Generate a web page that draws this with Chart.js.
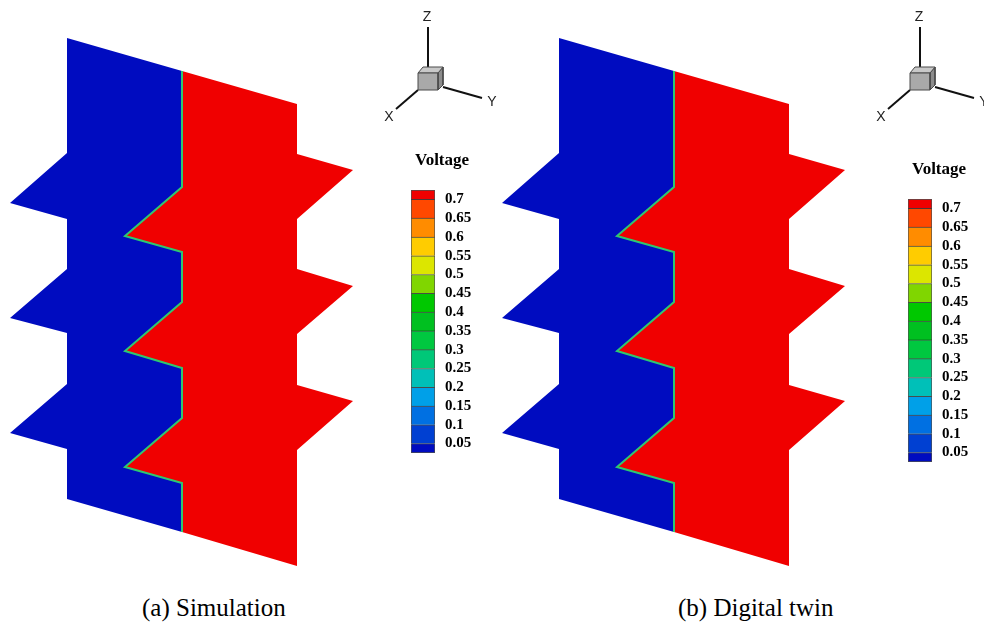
<!DOCTYPE html>
<html>
<head>
<meta charset="utf-8">
<title>Voltage</title>
<script src="https://cdn.jsdelivr.net/npm/chart.js@4.4.1/dist/chart.umd.min.js"></script>
<style>
  html, body { margin: 0; padding: 0; background: #fff; overflow: hidden; }
  body { width: 984px; height: 626px; position: relative; }
  canvas { position: absolute; }
  .caption {
    position: absolute;
    font-family: "Liberation Serif", "Times New Roman", serif;
    font-size: 25px;
    line-height: 30px;
    color: #000;
    white-space: nowrap;
  }
</style>
</head>
<body>
<canvas id="plateSim" width="560" height="590" style="left:0;top:0"></canvas>
<canvas id="plateTwin" width="560" height="590" style="left:492px;top:0"></canvas>
<canvas id="barSim" width="80" height="320" style="left:405px;top:140px"></canvas>
<canvas id="barTwin" width="80" height="320" style="left:902px;top:149px"></canvas>
<div class="caption" style="left:142px;top:593px">(a) Simulation</div>
<div class="caption" style="left:678px;top:593px">(b) Digital twin</div>

<script>
// plate outline in the view plane (origin = lower left corner of the plate)
var lowSideU  = [0, 115, 115, 58, 115, 115, 58, 115, 115, 58, 115, 115, 0, 0, -57, 0, 0, -57, 0, 0, -57, 0, 0];
var lowSideV  = [461, 428, 312, 263, 247, 197, 148, 131, 81, 32, 16, -33, 0, 50, 66, 115, 166, 181, 230, 280, 296, 346, 461];
var highSideU = [115, 230, 230, 286, 230, 230, 286, 230, 230, 286, 230, 230, 115, 115, 58, 115, 115, 58, 115, 115, 58, 115, 115];
var highSideV = [428, 395, 345, 329, 280, 230, 213, 165, 114, 98, 49, -67, -33, 16, 32, 81, 131, 148, 197, 247, 263, 312, 428];
var interfaceU = [115, 115, 58, 115, 115, 58, 115, 115, 58, 115, 115];
var interfaceV = [428, 312, 263, 247, 197, 148, 131, 81, 32, 16, -33];

// potential on each side of the interface
var lowSideVoltage = 0.03;
var highSideVoltage = 0.72;

// contour legend
var voltageEdges = [0.025, 0.05, 0.1, 0.15, 0.2, 0.25, 0.3, 0.35, 0.4, 0.45, 0.5, 0.55, 0.6, 0.65, 0.7, 0.725];
var bandColors = ['#000cc0', '#0040d2', '#0070e2', '#00a0e8', '#00c0b8', '#00c878', '#00c840',
                  '#00c020', '#00c800', '#80d600', '#dce600', '#ffcc00', '#ff8c00', '#ff4800', '#f00000'];
var tickValues = [0.05, 0.1, 0.15, 0.2, 0.25, 0.3, 0.35, 0.4, 0.45, 0.5, 0.55, 0.6, 0.65, 0.7];

// orientation triad
var zAxisU = [361, 361], zAxisV = [472, 432];
var yAxisU = [376, 415], yAxisV = [412, 401];
var xAxisU = [351, 329], xAxisV = [409, 390];
var cubeFrontU = [351, 371, 371, 351, 351], cubeFrontV = [426, 426, 409, 409, 426];
var cubeTopU = [351, 356, 376, 371, 351],   cubeTopV = [426, 432, 432, 426, 426];
var cubeSideU = [371, 376, 376, 371, 371],  cubeSideV = [426, 432, 414, 409, 426];
var triadNames = ['Z', 'Y', 'X'];
var triadNameU = [360, 425, 322];
var triadNameV = [482, 397, 382];

var serif = '"Liberation Serif", "Times New Roman", serif';

function colorFor(v) {
  for (var i = 0; i < bandColors.length; i++) {
    if (v >= voltageEdges[i] && v < voltageEdges[i + 1]) return bandColors[i];
  }
  return bandColors[bandColors.length - 1];
}

function pts(us, vs) {
  return us.map(function (u, i) { return { x: u, y: vs[i] }; });
}

function region(us, vs, color, edge) {
  return {
    data: pts(us, vs), fill: 'shape', backgroundColor: color,
    borderColor: edge || color, borderWidth: edge ? 1 : 0,
    pointRadius: 0, tension: 0
  };
}

function stroke(us, vs, color, w) {
  return {
    data: pts(us, vs), fill: false, borderColor: color, borderWidth: w,
    borderCapStyle: 'butt', pointRadius: 0, tension: 0
  };
}

var triadLabels = {
  id: 'triadLabels',
  afterDatasetsDraw: function (chart) {
    var ctx = chart.ctx, x = chart.scales.x, y = chart.scales.y;
    ctx.save();
    ctx.font = '14px "Liberation Sans", Arial, sans-serif';
    ctx.fillStyle = '#222';
    ctx.textAlign = 'center';
    ctx.textBaseline = 'middle';
    triadNames.forEach(function (t, i) {
      ctx.fillText(t, x.getPixelForValue(triadNameU[i]), y.getPixelForValue(triadNameV[i]));
    });
    ctx.restore();
  }
};

function plateChart(id) {
  // first dataset is drawn on top
  var datasets = [
    region(cubeFrontU, cubeFrontV, '#a9a9a9', '#4a4a4a'),
    region(cubeTopU, cubeTopV, '#c8c8c8', '#4a4a4a'),
    region(cubeSideU, cubeSideV, '#8c8c8c', '#4a4a4a'),
    stroke(zAxisU, zAxisV, '#111', 2),
    stroke(yAxisU, yAxisV, '#111', 2),
    stroke(xAxisU, xAxisV, '#111', 2),
    stroke(interfaceU, interfaceV, '#2ec870', 2),
    region(lowSideU, lowSideV, colorFor(lowSideVoltage)),
    region(highSideU, highSideV, colorFor(highSideVoltage))
  ];
  return new Chart(document.getElementById(id), {
    type: 'line',
    data: { datasets: datasets },
    options: {
      responsive: false,
      animation: false,
      events: [],
      layout: { padding: 0 },
      plugins: { legend: { display: false }, tooltip: { enabled: false } },
      scales: {
        x: { type: 'linear', display: false, min: -67, max: 493 },
        y: { type: 'linear', display: false, min: -91, max: 499 }
      }
    },
    plugins: [triadLabels]
  });
}

function legendChart(id) {
  var datasets = bandColors.map(function (c, i) {
    return {
      data: [[voltageEdges[i], voltageEdges[i + 1]]],
      backgroundColor: c,
      borderColor: 'rgba(20,20,20,0.75)',
      borderWidth: { top: 1, left: 1, right: 1, bottom: i === 0 ? 1 : 0 },
      borderSkipped: false,
      barPercentage: 1,
      categoryPercentage: 1,
      grouped: false
    };
  });
  return new Chart(document.getElementById(id), {
    type: 'bar',
    data: { labels: [''], datasets: datasets },
    options: {
      responsive: false,
      animation: false,
      events: [],
      layout: { padding: { left: 6, right: 12, top: 0, bottom: 7 } },
      plugins: {
        legend: { display: false },
        tooltip: { enabled: false },
        title: {
          display: true, text: 'Voltage', color: '#000',
          font: { family: serif, size: 17, weight: 'bold' },
          padding: { top: 10.8, bottom: 18.8 }
        }
      },
      scales: {
        x: { display: false },
        y: {
          position: 'right', min: 0.025, max: 0.725,
          grid: { display: false, drawTicks: false },
          border: { display: false },
          ticks: {
            color: '#000', padding: 10, autoSkip: false,
            font: { family: serif, size: 15, weight: 'bold' },
            callback: function (v) { return String(v); }
          },
          afterBuildTicks: function (s) {
            s.ticks = tickValues.map(function (v) { return { value: v }; });
          },
          afterFit: function (s) {
            s.width = 38;
            s.paddingTop = 0;
            s.paddingBottom = 0;
          }
        }
      }
    }
  });
}

plateChart('plateSim');
plateChart('plateTwin');
legendChart('barSim');
legendChart('barTwin');
</script>
</body>
</html>
